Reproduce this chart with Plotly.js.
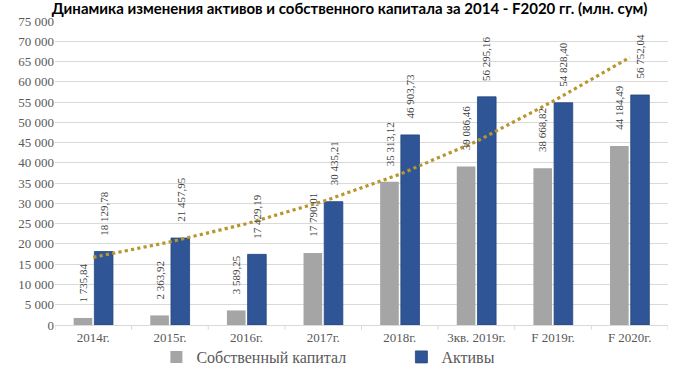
<!DOCTYPE html>
<html>
<head>
<meta charset="utf-8">
<script src="https://cdn.plot.ly/plotly-3.0.1.min.js"></script>
<style>html,body{margin:0;padding:0;background:#fff}#chart{width:680px;height:374px}</style>
</head>
<body>
<div id="chart"></div>
<script>
var categories = ['2014г.', '2015г.', '2016г.', '2017г.', '2018г.', '3кв. 2019г.', 'F 2019г.', 'F 2020г.'];
var equity = [1735.84, 2363.92, 3589.25, 17790.01, 35313.12, 39086.46, 38668.82, 44184.49];
var assets = [18129.78, 21457.95, 17429.19, 30435.21, 46903.73, 56295.16, 54828.40, 56752.04];
var trendAssets = [16700, 20500, 25000, 30500, 37200, 45300, 55200, 66000];
var seriesNames = ['Собственный капитал', 'Активы'];
var yTicks = [0, 5000, 10000, 15000, 20000, 25000, 30000, 35000, 40000, 45000, 50000, 55000, 60000, 65000, 70000, 75000];

var serif = 'Liberation Serif, Times New Roman, serif';
var idx = categories.map(function (c, i) { return i; });

function fmt(v) {
  var s = v.toFixed(2).split('.');
  return s[0].replace(/\B(?=(\d{3})+(?!\d))/g, ' ') + ',' + s[1];
}

var bargap = 0.46, groupgap = 0.1;
var slot = (1 - bargap) / 2;
var offs = [-slot / 2, slot / 2];

var traces = [
  {type: 'bar', name: seriesNames[0], x: idx, y: equity,
   marker: {color: '#A5A5A5'}, hoverinfo: 'y'},
  {type: 'bar', name: seriesNames[1], x: idx, y: assets,
   marker: {color: '#2F5597', line: {color: '#24467F', width: 0.8}}, hoverinfo: 'y'},
  {type: 'scatter', mode: 'lines', x: idx, y: trendAssets, showlegend: false,
   line: {color: '#B8962E', width: 3.2, dash: 'dot'}, hoverinfo: 'skip'}
];

var annotations = [];
[equity, assets].forEach(function (arr, s) {
  arr.forEach(function (v, i) {
    annotations.push({
      x: i + offs[s], y: v, xref: 'x', yref: 'y',
      text: fmt(v), showarrow: false, textangle: -90,
      xanchor: 'center', yanchor: 'bottom', yshift: 14,
      font: {family: serif, size: 11, color: '#404040'}
    });
  });
});

var layout = {
  width: 680, height: 374,
  margin: {l: 55, r: 12, t: 21, b: 49},
  paper_bgcolor: '#fff', plot_bgcolor: '#fff',
  separators: ', ',
  title: {text: '<b>Динамика изменения активов и собственного капитала за 2014 - F2020 гг. (млн. сум)</b>',
          font: {family: 'Lato, Noto Sans, sans-serif', size: 15, color: '#000'},
          x: 0.514, xanchor: 'center', y: 0.976, yanchor: 'middle', xref: 'container', yref: 'container'},
  barmode: 'group', bargap: bargap, bargroupgap: groupgap,
  xaxis: {
    type: 'linear', range: [-0.5, categories.length - 0.5],
    tickmode: 'array', tickvals: idx, ticktext: categories,
    showline: true, linecolor: '#D9D9D9', linewidth: 1,
    showgrid: false, zeroline: false,
    ticks: '', tickfont: {family: serif, size: 13, color: '#595959'}
  },
  yaxis: {
    range: [0, 75000], tickmode: 'array', tickvals: yTicks, tickformat: ',d',
    showgrid: true, gridcolor: '#D9D9D9', gridwidth: 1,
    zeroline: false, showline: false, ticks: '',
    tickfont: {family: serif, size: 13, color: '#595959'}
  },
  shapes: idx.concat([categories.length]).map(function (i) {
    return {type: 'line', xref: 'x', yref: 'paper', x0: i - 0.5, x1: i - 0.5, y0: 0, y1: -0.016,
            line: {color: '#D9D9D9', width: 1}};
  }),
  legend: {orientation: 'h', xref: 'container', yref: 'container', x: 0.23, xanchor: 'left',
           y: 0.0, yanchor: 'bottom', entrywidth: 200, entrywidthmode: 'pixels',
           bgcolor: 'rgba(0,0,0,0)', borderwidth: 0,
           font: {family: serif, size: 16, color: '#595959'}, itemclick: false},
  annotations: annotations,
  showlegend: true
};

Plotly.newPlot('chart', traces, layout, {displayModeBar: false, staticPlot: true});
</script>
</body>
</html>
